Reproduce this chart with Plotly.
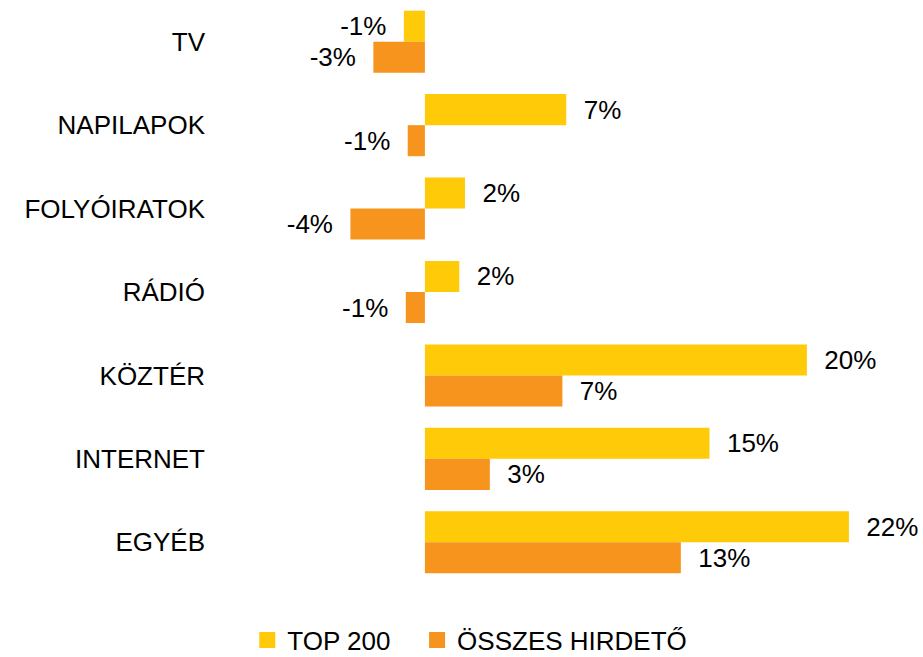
import plotly.graph_objects as go

# media categories, top to bottom
categories = ['TV', 'NAPILAPOK', 'FOLYÓIRATOK', 'RÁDIÓ', 'KÖZTÉR', 'INTERNET', 'EGYÉB']

# change in ad spend, %
top200 = [-1.1, 7.4, 2.1, 1.8, 20.0, 14.9, 22.2]
osszes = [-2.7, -0.9, -3.9, -1.0, 7.2, 3.4, 13.4]

series_names = ['TOP 200', 'ÖSSZES HIRDETŐ']
colors = ['#FFCA08', '#F7941D']

FONT = 'Arial, Liberation Sans, sans-serif'
FSIZE = 26
PAD = '\u00a0' * 2


def label_templates(values):
    # keep a small gap between the bar end and its label
    return [PAD + '%{x:.0f}%' if v >= 0 else '%{x:.0f}%' + PAD for v in values]


fig = go.Figure()
for i, (name, vals, col) in enumerate(zip(series_names, [top200, osszes], colors)):
    fig.add_trace(go.Bar(
        y=categories,
        x=vals,
        name=name,
        orientation='h',
        marker=dict(color=col, line=dict(width=0)),
        texttemplate=label_templates(vals),
        textposition='outside',
        textfont=dict(family=FONT, size=FSIZE, color='#000000'),
        cliponaxis=False,
        showlegend=False,
    ))
    # legend entry with a larger square swatch (extra space after the first one)
    fig.add_trace(go.Scatter(
        x=[None], y=[None],
        mode='markers',
        name=name + ('\u00a0' * 3 if i == 0 else ''),
        marker=dict(symbol='square', size=16, color=col),
        showlegend=True,
    ))

fig.update_layout(
    width=923,
    height=657,
    barmode='group',
    bargap=0.256,
    bargroupgap=0,
    plot_bgcolor='white',
    paper_bgcolor='white',
    margin=dict(l=215, r=8, t=0, b=73),
    font=dict(family=FONT, size=FSIZE, color='#000000'),
    legend=dict(
        orientation='h',
        x=0.364,
        xanchor='center',
        yref='container',
        y=0.0259,
        yanchor='middle',
        font=dict(family=FONT, size=FSIZE, color='#000000'),
        itemsizing='trace',
    ),
)

fig.update_xaxes(
    range=[-10.99, 25.66],
    showgrid=False,
    zeroline=False,
    showticklabels=False,
    showline=False,
    automargin=False,
)
fig.update_yaxes(
    range=[6.5, -0.5],
    showgrid=False,
    zeroline=False,
    showline=False,
    automargin=False,
    ticklabelstandoff=9,
    tickfont=dict(family=FONT, size=FSIZE, color='#000000'),
)

# drop the default 8px body margin so the chart sits at the page corner
fig.write_html(
    'out.html',
    config={'displayModeBar': False},
    post_script="document.body.style.margin='0';",
)
